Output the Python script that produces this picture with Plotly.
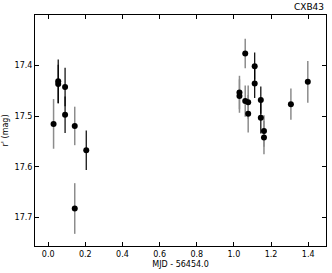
import plotly.graph_objects as go

# Gray error-bar series
gray_x = [0.029, 0.143, 0.143, 1.030, 1.030, 1.061, 1.061, 1.077, 1.077, 1.162, 1.162, 1.307, 1.398]
gray_y = [17.515, 17.519, 17.682, 17.453, 17.460, 17.376, 17.470, 17.472, 17.495, 17.529, 17.542, 17.476, 17.432]
gray_err = [0.049, 0.038, 0.050, 0.033, 0.033, 0.029, 0.031, 0.033, 0.037, 0.031, 0.033, 0.031, 0.041]

# Black error-bar series
black_x = [0.054, 0.054, 0.091, 0.091, 0.205, 1.112, 1.112, 1.145, 1.145]
black_y = [17.431, 17.436, 17.442, 17.497, 17.567, 17.401, 17.435, 17.468, 17.503]
black_err = [0.043, 0.038, 0.038, 0.036, 0.039, 0.027, 0.029, 0.027, 0.031]

x_ticks = [0.0, 0.2, 0.4, 0.6, 0.8, 1.0, 1.2, 1.4]
y_ticks = [17.4, 17.5, 17.6, 17.7]

fig = go.Figure()
fig.add_trace(go.Scatter(
    x=gray_x, y=gray_y, mode="markers",
    marker=dict(color="black", size=6),
    error_y=dict(type="data", array=gray_err, color="#8c8c8c", thickness=1.5, width=0),
    showlegend=False))
fig.add_trace(go.Scatter(
    x=black_x, y=black_y, mode="markers",
    marker=dict(color="black", size=6),
    error_y=dict(type="data", array=black_err, color="black", thickness=1.2, width=0),
    showlegend=False))

axis_common = dict(showgrid=False, zeroline=False, showline=True, linecolor="black", linewidth=1,
                   mirror="allticks", ticks="inside", ticklen=4, tickcolor="black",
                   tickfont=dict(family="DejaVu Sans", size=8, color="black"))

fig.update_xaxes(range=[-0.071, 1.496], tickvals=x_ticks, ticktext=[f"{v:.1f}" for v in x_ticks],
                 title=dict(text="MJD - 56454.0", font=dict(family="DejaVu Sans", size=8, color="black"), standoff=3),
                 **axis_common)
fig.update_yaxes(range=[17.756, 17.30], tickvals=y_ticks, ticktext=[f"{v:.1f}" for v in y_ticks],
                 title=dict(text="r' (mag)", font=dict(family="DejaVu Sans", size=8, color="black"), standoff=4),
                 **axis_common)

fig.update_layout(
    width=332, height=273,
    margin=dict(l=34, r=5, t=15, b=27),
    paper_bgcolor="white", plot_bgcolor="white",
    font=dict(family="DejaVu Sans", size=8, color="black"),
    annotations=[dict(text="CXB43", x=1, y=1, xref="paper", yref="paper", xanchor="right", yanchor="bottom",
                      yshift=1, showarrow=False, font=dict(family="DejaVu Sans", size=9, color="black"))],
)

fig.write_html("out.html", config={"displayModeBar": False},
               post_script="document.body.style.margin='0px';")
